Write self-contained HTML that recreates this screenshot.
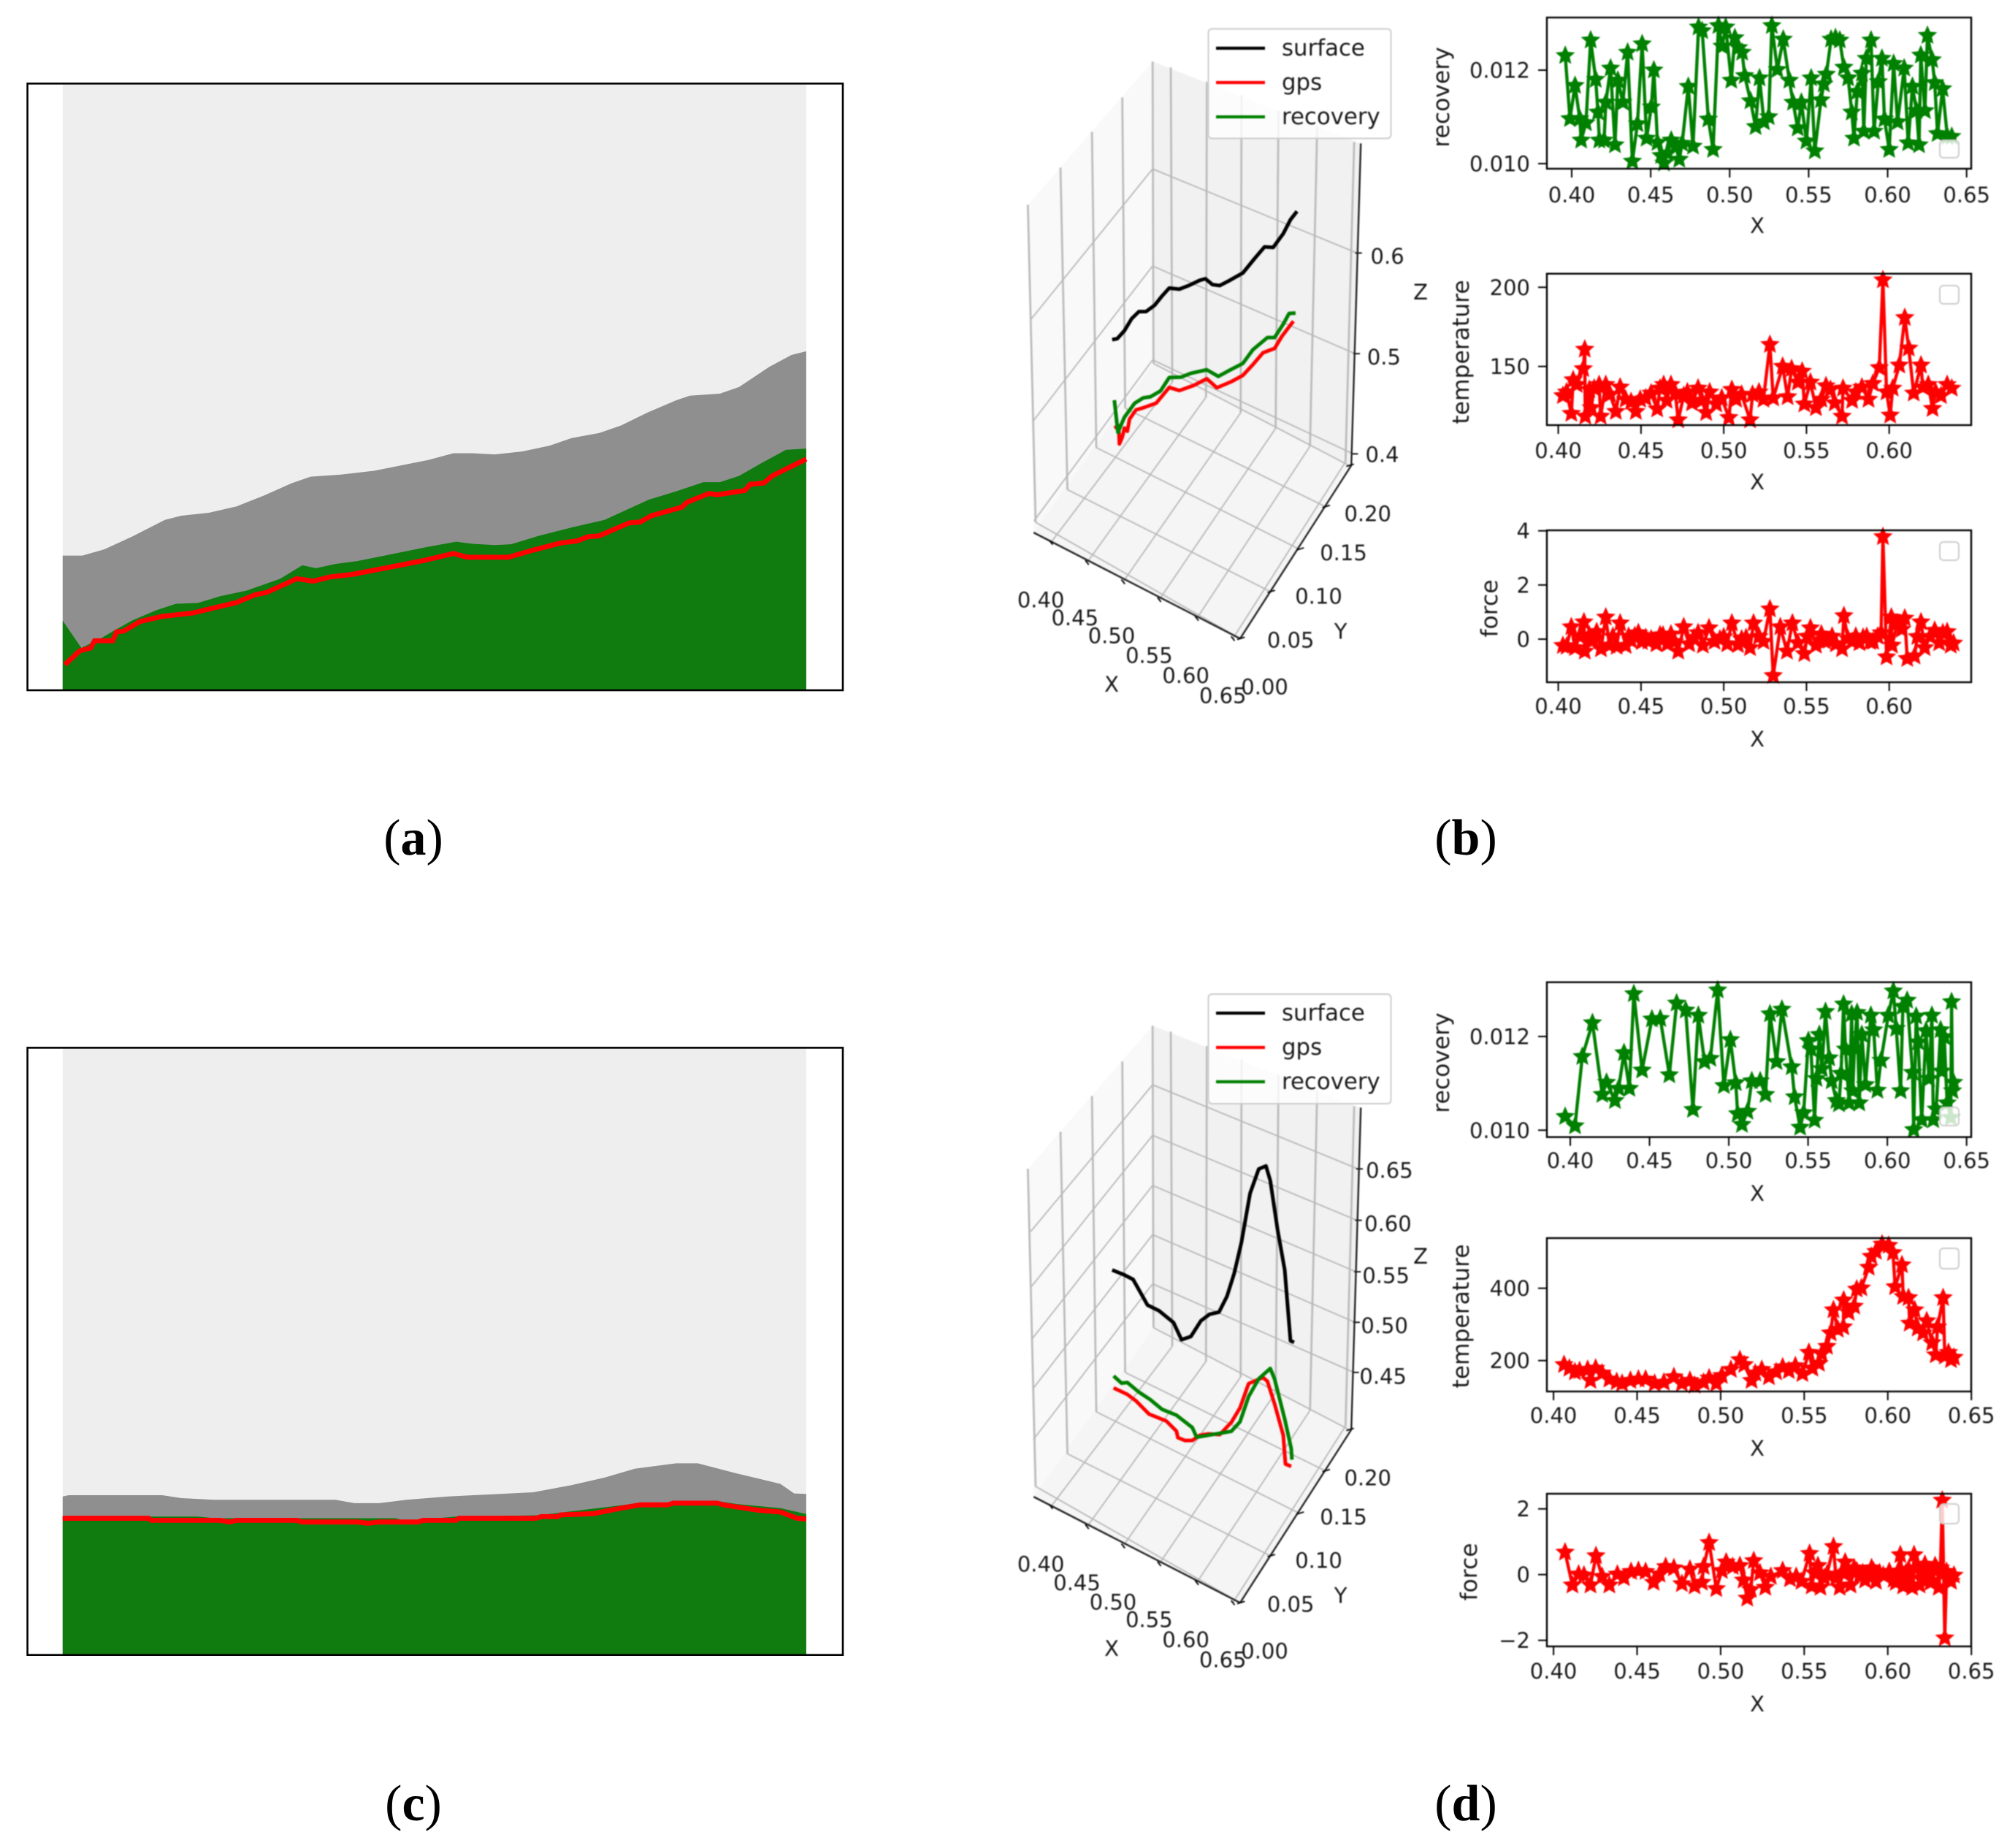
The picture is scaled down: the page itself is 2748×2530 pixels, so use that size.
<!DOCTYPE html>
<html lang="en">
<head>
<meta charset="utf-8">
<title>Surface, GPS and recovery charts</title>
<style>
html,body{margin:0;padding:0;background:#fff;}
svg{display:block;}
text{font-family:"DejaVu Sans","Liberation Sans",sans-serif;font-size:29px;fill:#1a1a1a;}
.legend-text{font-size:30.8px;}
.caption{font-family:"Liberation Serif",serif;font-size:70px;fill:#000;}
.caption tspan{font-weight:bold;}
.soft{filter:blur(0.8px);}
</style>
</head>
<body>
<svg id="figure" xmlns="http://www.w3.org/2000/svg" width="2748" height="2530" viewBox="0 0 2748 2530">
<rect width="2748" height="2530" fill="#fff"/>
<g id="panel-a"></g>
<g id="panel-c"></g>
<g class="soft" id="panel-b-3d"></g>
<g class="soft" id="panel-d-3d"></g>
<g class="soft">
<rect x="1654.5" y="39.5" width="250" height="150" rx="5" fill="#fff" fill-opacity="0.8" stroke="#ccc" stroke-width="2"/>
<line x1="1665" x2="1732" y1="66" y2="66" stroke="#000" stroke-width="4.2"/>
<text class="legend-text" x="1755" y="76">surface</text>
<line x1="1665" x2="1732" y1="113" y2="113" stroke="#f00" stroke-width="4.2"/>
<text class="legend-text" x="1755" y="123">gps</text>
<line x1="1665" x2="1732" y1="160" y2="160" stroke="#008000" stroke-width="4.2"/>
<text class="legend-text" x="1755" y="170">recovery</text>
</g>
<g class="soft">
<rect x="1654.5" y="1361" width="250" height="150" rx="5" fill="#fff" fill-opacity="0.8" stroke="#ccc" stroke-width="2"/>
<line x1="1665" x2="1732" y1="1387" y2="1387" stroke="#000" stroke-width="4.2"/>
<text class="legend-text" x="1755" y="1397">surface</text>
<line x1="1665" x2="1732" y1="1434" y2="1434" stroke="#f00" stroke-width="4.2"/>
<text class="legend-text" x="1755" y="1444">gps</text>
<line x1="1665" x2="1732" y1="1481" y2="1481" stroke="#008000" stroke-width="4.2"/>
<text class="legend-text" x="1755" y="1491">recovery</text>
</g>
<g class="soft" id="small-plots"></g>
<text class="caption" x="566" y="1170" text-anchor="middle">(<tspan>a</tspan>)</text>
<text class="caption" x="2007" y="1170" text-anchor="middle">(<tspan>b</tspan>)</text>
<text class="caption" x="566" y="2492" text-anchor="middle">(<tspan>c</tspan>)</text>
<text class="caption" x="2007" y="2492" text-anchor="middle">(<tspan>d</tspan>)</text>
</svg>
<script>
/* ---------- Panel (a) profile data ---------- */
const aSurfaceX=[0,3.6,7.6,12.6,18.6,21.6,26.6,31.6,36.6,41.6,45.1,50.6,56.6,61.6,66.6,71.1,74.6,78.6,83.6,88.6,92.6,97.6,101.6,106.6,111.6,114.1,119.6,123.1,128.6,132.6,135.3];
const aSurface=[32.1,32.1,33.6,36.6,40.6,41.6,42.3,43.8,46.4,49.3,50.9,51.4,52.3,53.6,54.9,56.5,56.5,56.2,56.9,58.3,60.1,61.3,63.1,66.3,69.1,70.2,70.7,72.3,77.1,79.9,80.8];
const aRecoveryX=[0,3.4,6.6,9.6,12.6,17.1,20.6,24.6,28.6,33.6,39.6,43.6,46.1,49.6,53.6,58.6,66.1,71.6,74.6,78.6,81.6,86.6,92.6,98.6,106.6,111.6,116.6,119.6,123.1,127.1,131.6,135.3];
const aRecovery=[16.6,10.1,12.1,14.4,16.6,19.1,20.6,20.8,22.4,23.8,26.6,29.8,29.1,30.1,30.8,32.1,34.1,35.4,34.9,34.6,34.8,36.8,38.8,40.6,45.4,47.4,49.6,49.6,51.1,54.1,57.3,57.6];
const aGpsX=[0.4,3.1,5.1,5.8,9.1,9.8,11.1,14.1,18.1,23.6,31.6,35.1,37.1,42.6,45.6,48.6,52.6,58.6,65.6,71.1,73.6,81.1,85.6,90.6,93.6,95.6,97.6,103.1,105.1,107.1,112.6,113.6,117.6,119.1,124.1,125.1,127.6,129.1,135.3];
const aGps=[6.1,9.4,10.1,11.8,11.8,13.9,14.1,16.4,17.6,18.4,20.9,22.8,23.3,26.6,26,27,27.6,29.1,30.9,32.6,31.7,31.7,33.4,35.1,35.6,36.6,36.8,39.9,40.1,41.6,43.6,44.8,46.9,46.6,47.6,49.1,49.4,51.1,55.1];

/* ---------- Panel (c) profile data ---------- */
const cSurfaceX=[0,1.1,18.1,21.6,27.4,49.6,53.1,57.6,62.6,70.1,76.6,85.6,92.6,98.6,104.1,111.6,115.6,122.6,130.6,133.1,135.3];
const cSurface=[37.8,38.1,38.1,37.4,37,37,36.2,36.2,37,37.8,38.2,38.8,40.5,42.3,44.4,45.7,45.7,43.3,40.8,38.5,38.4];
const cRecoveryX=[0,15.6,24.6,27.6,42.6,60.6,61.6,64.6,71.6,86.6,103.6,118.6,122.6,130.6,135.3];
const cRecovery=[33,33,33,32.6,32.6,32.6,32.2,32.2,33,33.3,36,36.8,36,35,33.6];
const cGpsX=[0,15.6,16.1,28.6,30.4,31.6,42.6,43.6,53.6,55.6,57.6,64.6,65.6,71.6,72.1,86.1,87.1,90.1,90.6,96.6,101.6,105.1,110.1,111.1,119.1,120.6,126.6,130.6,133.6,135.3];
const cGps=[32.6,32.6,32.1,32.1,31.7,32.1,32.1,31.7,31.7,31.4,31.7,31.7,32.1,32.1,32.6,32.6,33,33,33.4,33.7,35,35.8,35.8,36.2,36.2,35.7,34.5,34.1,32.6,32.4];

/* ---------- 3D line data, panel (b) ---------- */
const bSurfaceX=[.39,.397,.407,.417,.427,.437,.449,.459,.469,.483,.497,.511,.519,.529,.539,.551,.571,.587,.601,.613,.627,.637,.646];
const bSurfaceZ=[.438,.441,.452,.467,.477,.480,.490,.502,.513,.516,.524,.533,.537,.534,.536,.544,.558,.577,.593,.596,.614,.631,.642];
const bRecoveryX=[.393,.398,.407,.421,.433,.443,.457,.469,.485,.499,.521,.537,.553,.571,.585,.605,.615,.627,.635,.644];
const bRecoveryZ=[.378,.347,.365,.383,.392,.396,.406,.423,.428,.436,.446,.444,.455,.467,.485,.503,.506,.523,.536,.539];
const bGpsX=[.393,.399,.400,.404,.407,.411,.414,.423,.433,.451,.469,.483,.503,.521,.535,.555,.571,.585,.599,.615,.625,.641];
const bGpsZ=[.350,.354,.336,.344,.354,.352,.365,.377,.382,.392,.413,.414,.425,.437,.432,.444,.455,.470,.486,.495,.510,.530];

/* ---------- 3D line data, panel (d) ---------- */
const dSurfaceX=[.390,.407,.419,.429,.439,.455,.475,.486,.499,.513,.525,.538,.549,.559,.569,.581,.593,.603,.609,.619,.629,.637,.642];
const dSurfaceZ=[.472,.472,.471,.461,.451,.450,.444,.430,.437,.457,.467,.473,.492,.518,.552,.605,.633,.639,.626,.580,.542,.473,.473];
const dRecoveryX=[.392,.403,.411,.427,.443,.459,.479,.501,.507,.531,.555,.567,.579,.593,.609,.615,.629,.638,.639];
const dRecoveryZ=[.366,.362,.365,.360,.357,.352,.352,.346,.338,.348,.358,.371,.400,.422,.437,.428,.392,.365,.354];
const dGpsX=[.392,.411,.423,.441,.465,.479,.481,.491,.501,.511,.523,.539,.555,.567,.579,.599,.605,.615,.627,.630,.638];
const dGpsZ=[.354,.353,.350,.342,.342,.336,.330,.330,.333,.341,.346,.350,.367,.385,.413,.425,.423,.403,.375,.347,.347];

/* ---------- Small multiples: tick labels ---------- */
const xTickValues=[.40,.45,.50,.55,.60,.65];
const xTickLabels=['0.40','0.45','0.50','0.55','0.60','0.65'];

/* ---------- (b) recovery ---------- */
const b1X=[.3959,.3989,.4021,.4051,.4060,.4090,.4120,.4152,.4166,.4175,.4205,.4216,.4246,.4274,.4292,.4324,.4354,.4384,.4416,.4446,.4474,.4504,.4520,.4543,.4566,.4584,.4607,.4630,.4658,.4681,.4699,.4738,.4768,.4803,.4826,.4865,.4895,.4929,.4952,.4975,.5010,.5033,.5056,.5079,.5095,.5132,.5164,.5189,.5217,.5247,.5267,.5302,.5339,.5378,.5401,.5431,.5454,.5486,.5516,.5539,.5578,.5596,.5612,.5642,.5670,.5697,.5723,.5750,.5773,.5787,.5808,.5838,.5849,.5865,.5895,.5914,.5941,.5964,.5980,.6010,.6038,.6063,.6105,.6130,.6157,.6183,.6199,.6210,.6236,.6252,.6282,.6298,.6316,.6348,.6378,.6406];
const b1Y=[12.31,10.96,11.67,10.96,10.50,10.87,12.64,11.80,11.10,10.50,10.50,11.31,12.04,10.40,11.78,11.31,12.38,10.05,10.85,12.56,10.54,11.21,12.00,10.45,10.17,10.01,10.22,10.50,10.37,10.09,10.43,11.65,10.37,12.92,12.84,10.95,10.30,12.95,12.51,12.92,11.78,12.69,12.48,12.38,11.88,11.34,10.79,11.83,10.89,11.00,12.95,12.01,12.66,11.78,11.31,10.76,11.31,10.48,11.83,10.27,11.36,11.70,11.91,12.66,12.69,12.64,12.06,11.83,11.10,10.54,11.54,11.93,10.69,12.25,12.64,10.69,11.75,12.25,10.95,10.30,12.14,10.89,12.04,10.44,11.65,11.13,10.40,12.32,11.13,12.74,12.22,11.73,10.64,11.60,10.58,10.58];
const b1YTicks=[10,12];
const b1YLabels=['0.010','0.012'];

/* ---------- (b) temperature ---------- */
const b2X=[.4028,.4050,.4079,.4090,.4112,.4151,.4160,.4163,.4188,.4199,.4217,.4247,.4256,.4287,.4313,.4348,.4374,.4407,.4440,.4469,.4495,.4528,.4561,.4598,.4615,.4637,.4655,.4681,.4707,.4725,.4758,.4780,.4808,.4845,.4867,.4894,.4915,.4955,.4988,.5031,.5049,.5075,.5108,.5159,.5174,.5213,.5240,.5279,.5299,.5356,.5386,.5410,.5448,.5474,.5487,.5524,.5557,.5590,.5618,.5645,.5671,.5715,.5721,.5776,.5798,.5835,.5875,.5901,.5940,.5962,.5984,.6006,.6021,.6061,.6094,.6118,.6148,.6192,.6203,.6236,.6262,.6280,.6313,.6350,.6378];
const b2Y=[131.5,133.8,120.3,141.5,138.5,148.5,160.8,118.5,135.4,123.9,136.2,138.5,118.5,138.5,132.3,121.5,136.9,129.2,127.7,121.5,129.2,130,133.1,123.1,136.2,138.5,128.5,138.5,133.1,116.2,131.5,133.8,126.9,136.2,128.5,120.8,133.8,126.2,130,117.7,135.4,129.2,132.3,116.2,132.3,133.8,129.2,163.8,130,150,130.8,148.5,140,146.9,126.2,140,123.9,129.2,137.7,135.4,126.9,118.5,136.2,128.5,133.8,136.9,129.2,139.2,149.2,204.6,133.8,119.2,136.2,150.8,180.8,161.5,133.1,150.8,136.9,138.5,123.4,133.8,131.5,138.5,136.2];
const b2YTicks=[150,200];
const b2YLabels=['150','200'];

/* ---------- (b) force ---------- */
const b3X=[.4028,.4050,.4079,.4101,.4130,.4155,.4160,.4188,.4210,.4232,.4258,.4287,.4309,.4330,.4353,.4374,.4407,.4425,.4440,.4462,.4484,.4505,.4528,.4545,.4561,.4593,.4615,.4633,.4659,.4681,.4703,.4725,.4758,.4791,.4820,.4845,.4874,.4911,.4944,.4977,.5000,.5021,.5049,.5086,.5108,.5135,.5159,.5180,.5213,.5240,.5279,.5299,.5342,.5382,.5415,.5448,.5487,.5505,.5524,.5557,.5590,.5612,.5634,.5655,.5678,.5715,.5726,.5750,.5776,.5798,.5820,.5842,.5864,.5885,.5903,.5930,.5951,.5962,.5984,.6013,.6017,.6050,.6076,.6094,.6109,.6153,.6170,.6192,.6214,.6247,.6275,.6302,.6324,.6350,.6372,.6389];
const b3Y=[-.24,-.27,.45,-.32,.10,.63,-.45,.14,-.05,.27,-.36,.81,-.23,.10,-.27,.59,-.24,.10,-.05,.12,.23,-.10,.05,-.08,0,-.18,.15,.14,-.18,.18,-.10,-.45,.45,-.18,.05,.23,-.23,.41,-.09,0,.08,-.18,.59,-.21,0,.05,-.32,.59,.09,-.09,1.11,-1.35,.45,-.45,.59,-.14,-.54,.10,.41,-.23,.18,-.08,-.05,.10,-.18,-.36,.86,.02,-.09,.10,-.14,.06,.09,-.10,-.09,.10,.23,3.78,-.66,.81,-.23,.59,.36,.77,-.72,-.63,.09,.63,-.32,.09,.32,-.14,.23,.27,-.23,-.15];
const b3YTicks=[0,2,4];
const b3YLabels=['0','2','4'];

/* ---------- (d) recovery ---------- */
const d1X=[.3968,.4030,.4076,.4140,.4202,.4229,.4282,.4305,.4339,.4373,.4401,.4453,.4515,.4568,.4625,.4671,.4728,.4774,.4808,.4847,.4884,.4930,.4969,.5010,.5044,.5056,.5083,.5118,.5145,.5198,.5232,.5260,.5301,.5335,.5397,.5415,.5450,.5472,.5502,.5518,.5541,.5553,.5571,.5587,.5610,.5633,.5649,.5679,.5695,.5708,.5724,.5736,.5759,.5775,.5782,.5793,.5809,.5823,.5839,.5862,.5896,.5914,.5937,.5960,.6006,.6038,.6056,.6084,.6098,.6125,.6159,.6166,.6182,.6194,.6217,.6244,.6263,.6281,.6290,.6308,.6336,.6343,.6359,.6377,.6400,.6405,.6411,.6418];
const d1Y=[10.29,10.09,11.57,12.29,10.76,11.02,10.63,10.89,11.65,10.89,12.91,11.28,12.37,12.38,11.18,12.71,12.56,10.44,12.45,11.46,11.53,12.99,10.95,11.93,11.01,10.35,10.12,10.40,11.05,11.05,10.76,12.48,11.46,12.58,11.35,10.71,10.06,10.37,11.91,11.73,10.21,11.10,12.04,11.31,12.53,11.54,11.05,10.63,10.56,11.21,12.69,11.73,10.58,12.48,10.84,11.75,12.51,10.58,12.04,10.97,12.45,12.14,10.85,11.49,12.45,12.97,12.17,10.84,12.64,12.77,11.23,10.01,12.43,11.88,10.22,12.12,11.10,12.45,10.22,10.45,12.14,11.26,11.99,10.58,10.27,12.74,10.84,11.02];
const d1YTicks=[10,12];
const d1YLabels=['0.010','0.012'];

/* ---------- (d) temperature ---------- */
const d2X=[.4063,.4095,.4128,.4156,.4204,.4221,.4252,.4291,.4334,.4378,.4410,.4460,.4508,.4551,.4605,.4660,.4720,.4768,.4816,.4844,.4898,.4931,.4974,.5007,.5061,.5115,.5141,.5185,.5207,.5246,.5289,.5332,.5371,.5408,.5447,.5489,.5528,.5549,.5588,.5604,.5636,.5658,.5675,.5701,.5734,.5736,.5766,.5799,.5814,.5842,.5886,.5901,.5929,.5966,.6005,.6031,.6044,.6085,.6092,.6124,.6131,.6161,.6179,.6211,.6233,.6265,.6287,.6298,.6331,.6341,.6363,.6378,.6396];
const d2Y=[188.6,178.5,168.4,171.7,175.1,144.8,178.5,165,148.2,141.4,136.7,144.8,148.2,148.2,136.7,139.4,154.9,136.7,144.8,131.4,139.4,151.5,136.7,158.3,175.1,202,188.6,144.8,165,175.1,154.9,168.4,181.8,171.7,185.2,163.7,222.2,178.5,191.9,218.8,239,276,340,286.1,292.9,366.9,333.3,350.1,397.2,400.6,457.8,488,501.5,521.7,518.3,498.1,403.9,464.5,377,373.6,303,340,289.5,276,309.7,249.1,215.5,292.9,373.6,212.1,222.2,202,208.7];
const d2YTicks=[200,400];
const d2YLabels=['200','400'];

/* ---------- (d) force ---------- */
const d3X=[.4069,.4113,.4150,.4182,.4221,.4254,.4291,.4334,.4382,.4421,.4464,.4508,.4551,.4599,.4634,.4671,.4720,.4768,.4816,.4844,.4888,.4898,.4931,.4974,.5007,.5033,.5072,.5115,.5137,.5159,.5180,.5198,.5235,.5267,.5300,.5371,.5415,.5452,.5484,.5532,.5545,.5560,.5582,.5597,.5620,.5636,.5675,.5690,.5712,.5730,.5745,.5760,.5777,.5799,.5815,.5831,.5850,.5864,.5885,.5903,.5915,.5929,.5950,.5973,.6009,.6035,.6048,.6062,.6075,.6092,.6108,.6124,.6135,.6146,.6157,.6175,.6190,.6205,.6222,.6238,.6255,.6270,.6283,.6295,.6305,.6315,.6326,.6341,.6352,.6378,.6396];
const d3Y=[.68,-.32,.01,-.02,-.32,.57,-.06,-.32,.01,-.10,.09,.12,.09,-.24,.01,.24,.20,-.28,.16,-.35,-.24,.24,.97,-.43,.12,.38,.24,.27,-.17,-.72,-.46,.42,.05,-.39,-.06,.12,-.13,-.06,-.21,.64,-.35,.05,.27,-.39,-.10,.01,.85,-.10,-.39,.05,.38,.10,-.32,.20,.10,-.06,.05,-.17,-.05,.20,.10,-.21,.05,-.02,.09,-.15,-.24,.10,.60,-.35,.05,.16,-.10,-.39,.60,.20,-.32,-.15,.31,.10,-.24,-.20,.27,.15,-.39,.20,2.26,-1.93,.09,-.21,-.02];
const d3YTicks=[-2,0,2];
const d3YLabels=['\u22122','0','2'];

/* ---------- helpers ---------- */
const NS='http://www.w3.org/2000/svg';
function mk(tag,attrs,parent){
  const e=document.createElementNS(NS,tag);
  for(const k in attrs){e.setAttribute(k,attrs[k]);}
  parent.appendChild(e);
  return e;
}
function linear(d0,d1,r0,r1){return v=>r0+(v-d0)*(r1-r0)/(d1-d0);}
function pts(list){return list.map(p=>p[0].toFixed(2)+','+p[1].toFixed(2)).join(' ');}

/* ---------- area panels (a) and (c) ---------- */
function areaPanel(g,cfg){
  const sx=linear(0,135.3,85.8,1103.9);
  const sy=linear(0,cfg.yMax,cfg.bottom,cfg.top);
  const bg=mk('rect',{x:sx(0),y:cfg.top,width:sx(135.3)-sx(0),height:cfg.bottom-cfg.top,fill:'#eeeeee'},g);
  
  
  const area=(xs,vs)=>{
    const list=xs.map((x,i)=>[sx(x),sy(vs[i])]);
    list.push([sx(xs[xs.length-1]),cfg.bottom],[sx(xs[0]),cfg.bottom]);
    return pts(list);
  };
  const surf=mk('polygon',{points:area(cfg.surfX,cfg.surf),fill:'#8f8f8f'},g);
  
  
  const rec=mk('polygon',{points:area(cfg.recX,cfg.rec),fill:'#107c10'},g);
  
  
  const gps=mk('polyline',{points:pts(cfg.gpsX.map((x,i)=>[sx(x),sy(cfg.gps[i])])),fill:'none',stroke:'#ff0000','stroke-width':6.8},g);
  
  
  const frame=mk('rect',{x:37.6,y:cfg.top,width:1116.4,height:cfg.bottom-cfg.top,fill:'none',stroke:'#000','stroke-width':2.6},g);
  
  
}
areaPanel(document.getElementById('panel-a'),{top:114.4,bottom:945,yMax:144.6,surfX:aSurfaceX,surf:aSurface,recX:aRecoveryX,rec:aRecovery,gpsX:aGpsX,gps:aGps});
areaPanel(document.getElementById('panel-c'),{top:1434.4,bottom:2265.7,yMax:144.8,surfX:cSurfaceX,surf:cSurface,recX:cRecoveryX,rec:cRecovery,gpsX:cGpsX,gps:cGps});

/* ---------- 3D panels: box geometry is axis furniture, series go through axis functions ---------- */
const leftWallTop=[[145,425],[258,342],[367,262],[472,185],[577,105]];
const leftWallBottom=[[172,1135],[282,1062],[382,968],[482,880],[580,780]];
const backWallTop=[[640,118],[765,150],[885,180],[1013,215],[1147,250],[1275,285]];
const backWallBottom=[[645,822],[762,855],[882,890],[1003,925],[1122,965],[1245,1000]];
const xAxisFront=[[225,1180],[350,1225],[475,1268],[600,1308],[730,1350],[855,1395]];
const yAxisFront=[[880,1395],[985,1290],[1085,1195],[1175,1100],[1258,1008]];
const bZGrid=[[345,680,533,'0.6',1390,540],[562,910,758,'0.5',1378,765],[772,1132,982,'0.4',1372,983]];
const dZGrid=[[237,565,425,'0.65',1397,428],[350,688,540,'0.60',1392,547],[462,805,655,'0.55',1385,663],[572,917,768,'0.50',1380,775],[682,1030,880,'0.45',1375,888]];
const yTickText=[['0.00',965,1502],['0.05',1055,1398],['0.10',1152,1300],['0.15',1238,1203],['0.20',1322,1115]];
const bXTickText=[['0.40',190,1308],['0.45',308,1348],['0.50',435,1388],['0.55',565,1432],['0.60',692,1477],['0.65',820,1522]];
const dXTickText=[['0.40',190,1308],['0.45',315,1350],['0.50',440,1393],['0.55',565,1432],['0.60',692,1477],['0.65',820,1522]];

function panel3D(g,base,zGrid,xText,series){
  const px=zx=>1350+zx/2.529;
  const py=zy=>base+zy/1.633;
  const P=p=>[px(p[0]),py(p[1])];
  const seg=(a,b,col,w,name)=>{
    const l=mk('line',{x1:px(a[0]),y1:py(a[1]),x2:px(b[0]),y2:py(b[1]),stroke:col,'stroke-width':w},g);
    
    
  };
  const label=(t,zx,zy,name)=>{
    const e=mk('text',{x:px(zx),y:py(zy)+10.5,'text-anchor':'middle'},g);
    e.textContent=t;
    
    
  };
  const leftPane=mk('polygon',{points:pts([[145,425],[577,105],[580,780],[165,1158]].map(P)),fill:'#f9f9f9'},g);
  
  
  const backPane=mk('polygon',{points:pts([[577,105],[1298,288],[1258,1005],[580,780]].map(P)),fill:'#f1f1f1'},g);
  
  
  const floorPane=mk('polygon',{points:pts([[165,1158],[580,780],[1258,1005],[880,1395]].map(P)),fill:'#f5f5f5'},g);
  
  
  leftWallTop.forEach((p,i)=>seg(p,leftWallBottom[i],'#bcbcbc',2.8,'wall-gridline'));
  backWallTop.forEach((p,i)=>seg(p,backWallBottom[i],'#bcbcbc',2.8,'wall-gridline'));
  backWallBottom.forEach((p,i)=>seg(p,xAxisFront[i],'#b8b8b8',1.8,'floor-gridline'));
  leftWallBottom.forEach((p,i)=>seg(p,yAxisFront[i],'#b8b8b8',1.8,'floor-gridline'));
  zGrid.forEach(r=>{
    seg([577,r[0]],[155+(r[1]-565)*0.02,r[1]],'#b8b8b8',1.8,'z-gridline');
    seg([577,r[0]],[1288-(r[2]-425)*0.03,r[2]],'#b8b8b8',1.8,'z-gridline');
    seg([1282-(r[2]-425)*0.03,r[2]],[1305-(r[2]-425)*0.03,r[2]],'#000',1.8,'z-tick');
    label(r[3],r[4],r[5],'z-tick-label');
  });
  seg([165,1158],[880,1395],'#222',2.4,'x-axis-line');
  seg([880,1395],[1265,1008],'#222',2.4,'y-axis-line');
  seg([1265,1008],[1298,288],'#222',2.4,'z-axis-line');
  xAxisFront.forEach(p=>seg([p[0]-6,p[1]-5],[p[0]+6,p[1]+5],'#000',1.8,'x-tick'));
  yAxisFront.forEach(p=>seg([p[0]-10,p[1]+2],[p[0]+16,p[1]-3],'#000',1.8,'y-tick'));
  xText.forEach(t=>label(t[0],t[1],t[2],'x-tick-label'));
  yTickText.forEach(t=>label(t[0],t[1],t[2],'y-tick-label'));
  label('X',435,1497,'x-axis-title');
  label('Y',1228,1378,'y-axis-title');
  label('Z',1505,620,'z-axis-title');
  /* projected axis functions */
  const depth=x=>(x-0.39)/0.0004;
  const sx=x=>px(437+depth(x));
  const sy=(x,z)=>py(1700+0.26*depth(x)-z/0.00045);
  series.forEach(s=>{
    const l=mk('polyline',{points:pts(s.x.map((x,i)=>[sx(x),sy(x,s.z[i])])),fill:'none',stroke:s.color,'stroke-width':5,'stroke-linejoin':'round'},g);
    
    
  });
}
panel3D(document.getElementById('panel-b-3d'),20,bZGrid,bXTickText,[
 {x:bSurfaceX,z:bSurfaceZ,color:'#000',name:'surface-line'},
 {x:bGpsX,z:bGpsZ,color:'#f00',name:'gps-line'},
 {x:bRecoveryX,z:bRecoveryZ,color:'#008000',name:'recovery-line'}]);
panel3D(document.getElementById('panel-d-3d'),1340,dZGrid,dXTickText,[
 {x:dSurfaceX,z:dSurfaceZ,color:'#000',name:'surface-line'},
 {x:dGpsX,z:dGpsZ,color:'#f00',name:'gps-line'},
 {x:dRecoveryX,z:dRecoveryZ,color:'#008000',name:'recovery-line'}]);

/* ---------- small multiples ---------- */
function starPoints(cx,cy,R){
  const out=[];
  for(let i=0;i<10;i++){
    const r=i%2?R*0.46:R;
    const a=-Math.PI/2+i*Math.PI/5;
    out.push([cx+r*Math.cos(a),cy+r*Math.sin(a)]);
  }
  return pts(out);
}
function smallPlot(root,c){
  const g=mk('g',{},root);
  
  
  const sx=linear(.40,.65,c.x40,c.x65);
  const sy=linear(c.yA,c.yB,c.pyA,c.pyB);
  const bg=mk('rect',{x:2118,y:c.top,width:581,height:c.bottom-c.top,fill:'#fff'},g);
  
  
  const line=mk('polyline',{points:pts(c.xs.map((x,i)=>[sx(x),sy(c.ys[i])])),fill:'none',stroke:c.color,'stroke-width':4.4,'stroke-linejoin':'round'},g);
  
  
  c.xs.forEach((x,i)=>{
    const m=mk('polygon',{points:starPoints(sx(x),sy(c.ys[i]),11.5),fill:c.color,stroke:c.color,'stroke-width':2},g);
    
    
  });
  const legend=mk('rect',{x:2656,y:c.legendY,width:26,height:c.legendH,rx:5,fill:'#fff','fill-opacity':0.8,stroke:'#ccc','stroke-width':2},g);
  
  
  const frame=mk('rect',{x:2118,y:c.top,width:581,height:c.bottom-c.top,fill:'none',stroke:'#000','stroke-width':2.4},g);
  
  
  xTickValues.forEach((v,i)=>{
    if(sx(v)>2702){return;}
    if(c.maxX&&v>c.maxX){return;}
    const t=mk('line',{x1:sx(v),x2:sx(v),y1:c.bottom,y2:c.bottom+12,stroke:'#000','stroke-width':2},g);
    
    
    const l=mk('text',{x:sx(v),y:c.xLabelY,'text-anchor':'middle'},g);
    l.textContent=xTickLabels[i];
    
    
  });
  c.yTicks.forEach((v,i)=>{
    const t=mk('line',{x1:2106,x2:2118,y1:sy(v),y2:sy(v),stroke:'#000','stroke-width':2},g);
    
    
    const l=mk('text',{x:2095,y:sy(v)+10.5,'text-anchor':'end'},g);
    l.textContent=c.yLabels[i];
    
    
  });
  const xt=mk('text',{x:2406,y:c.xTitleY,'text-anchor':'middle'},g);
  xt.textContent='X';
  
  
  const yt=mk('text',{x:c.yTitleX,y:c.yTitleY,'text-anchor':'middle','font-size':31.4,style:'font-size:31.4px',transform:'rotate(-90 '+c.yTitleX+' '+c.yTitleY+')'},g);
  yt.textContent=c.title;
  
  
}
const small=document.getElementById('small-plots');
smallPlot(small,{name:'panel-b-recovery-plot',title:'recovery',color:'#008000',xs:b1X,ys:b1Y,yTicks:b1YTicks,yLabels:b1YLabels,top:24,bottom:231,x40:2152,x65:2692.7,yA:10,yB:12,pyA:224,pyB:96,xLabelY:277,xTitleY:319,yTitleX:1984,yTitleY:133,legendY:192,legendH:24});
smallPlot(small,{name:'panel-b-temperature-plot',title:'temperature',color:'#ff0000',xs:b2X,ys:b2Y,yTicks:b2YTicks,yLabels:b2YLabels,top:374.7,bottom:582,x40:2133.6,x65:2700,maxX:.6,yA:150,yB:200,pyA:501.7,pyB:393.3,xLabelY:627,xTitleY:670,yTitleX:2011,yTitleY:482,legendY:391,legendH:25});
smallPlot(small,{name:'panel-b-force-plot',title:'force',color:'#ff0000',xs:b3X,ys:b3Y,yTicks:b3YTicks,yLabels:b3YLabels,top:726,bottom:934,x40:2133.6,x65:2700,maxX:.6,yA:0,yB:4,pyA:875,pyB:726.7,xLabelY:977,xTitleY:1022,yTitleX:2050,yTitleY:833,legendY:742,legendH:25});
smallPlot(small,{name:'panel-d-recovery-plot',title:'recovery',color:'#008000',xs:d1X,ys:d1Y,yTicks:d1YTicks,yLabels:d1YLabels,top:1344.7,bottom:1556.7,x40:2150,x65:2692.7,yA:10,yB:12,pyA:1547.3,pyB:1419,xLabelY:1599,xTitleY:1644,yTitleX:1984,yTitleY:1455,legendY:1516,legendH:25});
smallPlot(small,{name:'panel-d-temperature-plot',title:'temperature',color:'#ff0000',xs:d2X,ys:d2Y,yTicks:d2YTicks,yLabels:d2YLabels,top:1695,bottom:1905,x40:2127.1,x65:2699.2,yA:200,yB:400,pyA:1862.7,pyB:1763.7,xLabelY:1948,xTitleY:1993,yTitleX:2011,yTitleY:1802,legendY:1709,legendH:28});
smallPlot(small,{name:'panel-d-force-plot',title:'force',color:'#ff0000',xs:d3X,ys:d3Y,yTicks:d3YTicks,yLabels:d3YLabels,top:2045,bottom:2254,x40:2127.1,x65:2699.2,yA:0,yB:2,pyA:2155.7,pyB:2065.7,xLabelY:2298,xTitleY:2343,yTitleX:2022,yTitleY:2152,legendY:2059,legendH:27});
</script>
</body>
</html>
